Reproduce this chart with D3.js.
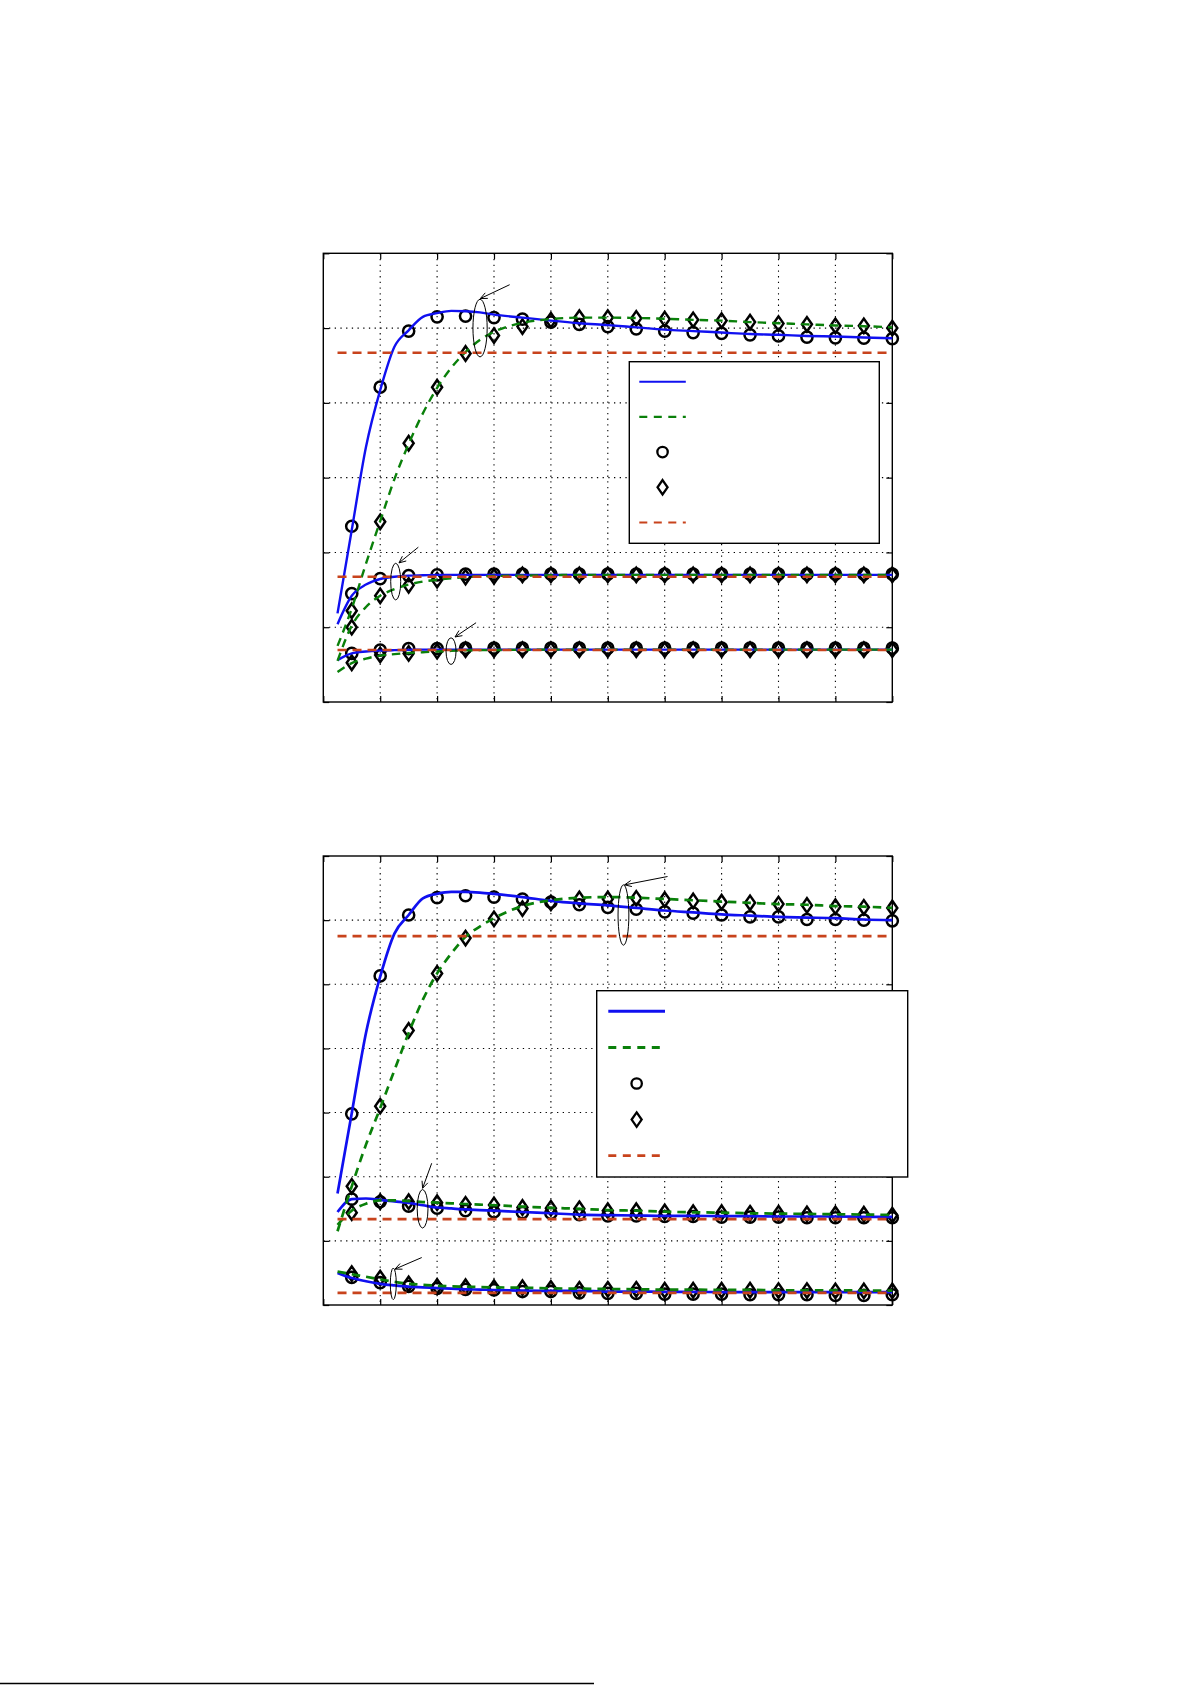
<!DOCTYPE html>
<html>
<head>
<meta charset="utf-8">
<script src="https://cdn.jsdelivr.net/npm/d3@7"></script>
<style>
    html, body { margin: 0; padding: 0; background: #fff; }
    svg { display: block; }
</style>
</head>
<body>
<div id="chart"></div>
<script>
'use strict';

// x samples of the continuous curves, and of the markers
const LINE_X = [0.5, 1, 1.5, 2, 2.5, 3, 3.5, 4, 4.5, 5, 5.5, 6, 7, 8, 9, 10, 11, 12, 13, 14, 15, 16, 17, 18, 19, 20];
const MARK_X = [1, 2, 3, 4, 5, 6, 7, 8, 9, 10, 11, 12, 13, 14, 15, 16, 17, 18, 19, 20];
const X_TICKS = [0, 2, 4, 6, 8, 10, 12, 14, 16, 18, 20];
const Y_TICKS_1 = [0, 1, 2, 3, 4, 5, 6];
const Y_TICKS_2 = [0, 1, 2, 3, 4, 5, 6, 7];

//#region PANEL 1 DATA
const p1BlueTop = [1.185, 2.30, 3.41, 4.17, 4.75, 4.97, 5.15, 5.20, 5.23, 5.225, 5.21, 5.18, 5.14, 5.10, 5.065, 5.04, 5.01, 4.98, 4.96, 4.94, 4.92, 4.91, 4.895, 4.887, 4.875, 4.865];
const p1GreenTop = [0.75, 1.25, 1.85, 2.42, 2.98, 3.45, 3.86, 4.20, 4.47, 4.68, 4.84, 4.95, 5.07, 5.12, 5.14, 5.14, 5.135, 5.125, 5.11, 5.10, 5.08, 5.065, 5.05, 5.035, 5.025, 5.01];
const p1BlueMid = [1.04, 1.42, 1.57, 1.645, 1.675, 1.69, 1.695, 1.70, 1.70, 1.70, 1.70, 1.70, 1.70, 1.70, 1.70, 1.70, 1.70, 1.70, 1.70, 1.70, 1.70, 1.70, 1.70, 1.70, 1.70, 1.70];
const p1GreenMid = [0.55, 1.02, 1.27, 1.42, 1.51, 1.57, 1.61, 1.635, 1.655, 1.67, 1.68, 1.685, 1.69, 1.695, 1.70, 1.70, 1.70, 1.70, 1.70, 1.70, 1.70, 1.70, 1.70, 1.70, 1.70, 1.70];
const p1BlueBot = [0.56, 0.65, 0.675, 0.687, 0.693, 0.697, 0.70, 0.70, 0.70, 0.70, 0.70, 0.70, 0.70, 0.70, 0.70, 0.70, 0.70, 0.70, 0.70, 0.70, 0.70, 0.70, 0.70, 0.70, 0.70, 0.70];
const p1GreenBot = [0.40, 0.52, 0.58, 0.62, 0.64, 0.655, 0.665, 0.675, 0.683, 0.69, 0.693, 0.695, 0.698, 0.70, 0.70, 0.70, 0.70, 0.70, 0.70, 0.70, 0.70, 0.70, 0.70, 0.70, 0.70, 0.70];
const p1RedLevels = [4.67, 1.675, 0.695];

const p1CircTop = [2.35, 4.21, 4.96, 5.15, 5.16, 5.14, 5.12, 5.08, 5.05, 5.02, 4.99, 4.96, 4.94, 4.93, 4.91, 4.895, 4.88, 4.87, 4.865, 4.86];
const p1DiamTop = [1.22, 2.41, 3.46, 4.21, 4.66, 4.90, 5.02, 5.105, 5.14, 5.14, 5.13, 5.12, 5.11, 5.10, 5.08, 5.06, 5.05, 5.03, 5.03, 5.00];
const p1CircMid = [1.45, 1.65, 1.69, 1.70, 1.71, 1.71, 1.71, 1.71, 1.71, 1.71, 1.71, 1.71, 1.71, 1.71, 1.71, 1.71, 1.71, 1.71, 1.71, 1.71];
const p1DiamMid = [1.00, 1.42, 1.56, 1.63, 1.67, 1.68, 1.70, 1.70, 1.70, 1.70, 1.70, 1.70, 1.70, 1.70, 1.70, 1.70, 1.70, 1.70, 1.70, 1.70];
const p1CircBot = [0.65, 0.695, 0.715, 0.715, 0.72, 0.72, 0.72, 0.72, 0.72, 0.72, 0.72, 0.72, 0.72, 0.72, 0.72, 0.72, 0.72, 0.72, 0.72, 0.72];
const p1DiamBot = [0.525, 0.63, 0.65, 0.68, 0.70, 0.70, 0.70, 0.70, 0.70, 0.70, 0.70, 0.70, 0.70, 0.70, 0.70, 0.70, 0.70, 0.70, 0.70, 0.70];

// ellipse marks: centre (data units), radii (data units), arrow tail -> head (data units)
const p1Notes = [
    { cx: 5.51, cy: 5.00, rx: 0.25, ry: 0.385, tx: 6.55, ty: 5.58, hx: 5.52, hy: 5.395 },
    { cx: 2.545, cy: 1.61, rx: 0.176, ry: 0.245, tx: 3.34, ty: 2.07, hx: 2.66, hy: 1.86 },
    { cx: 4.49, cy: 0.68, rx: 0.176, ry: 0.178, tx: 5.37, ty: 1.06, hx: 4.63, hy: 0.87 },
];
//#endregion

//#region PANEL 2 DATA
const p2BlueTop = [1.74, 2.99, 4.24, 5.12, 5.79, 6.08, 6.34, 6.41, 6.44, 6.44, 6.43, 6.41, 6.36, 6.30, 6.26, 6.23, 6.19, 6.15, 6.12, 6.09, 6.07, 6.05, 6.04, 6.03, 6.01, 6.00];
const p2GreenTop = [1.15, 1.85, 2.50, 3.07, 3.66, 4.24, 4.76, 5.17, 5.48, 5.74, 5.90, 6.03, 6.22, 6.31, 6.35, 6.36, 6.35, 6.33, 6.31, 6.29, 6.27, 6.25, 6.24, 6.22, 6.21, 6.19];
const p2BlueMid = [1.45, 1.65, 1.66, 1.64, 1.615, 1.59, 1.555, 1.52, 1.505, 1.49, 1.48, 1.47, 1.45, 1.43, 1.41, 1.40, 1.395, 1.39, 1.39, 1.385, 1.385, 1.38, 1.38, 1.38, 1.375, 1.375];
const p2GreenMid = [1.25, 1.47, 1.58, 1.63, 1.63, 1.62, 1.605, 1.595, 1.585, 1.575, 1.565, 1.555, 1.535, 1.515, 1.50, 1.48, 1.47, 1.455, 1.445, 1.44, 1.43, 1.425, 1.42, 1.415, 1.41, 1.405];
const p2BlueBot = [0.50, 0.42, 0.37, 0.33, 0.305, 0.285, 0.275, 0.265, 0.255, 0.245, 0.24, 0.234, 0.225, 0.22, 0.22, 0.21, 0.21, 0.205, 0.205, 0.20, 0.20, 0.20, 0.20, 0.20, 0.20, 0.20];
const p2GreenBot = [0.52, 0.48, 0.44, 0.40, 0.36, 0.33, 0.315, 0.30, 0.29, 0.285, 0.28, 0.275, 0.27, 0.26, 0.255, 0.25, 0.245, 0.24, 0.24, 0.235, 0.235, 0.23, 0.23, 0.23, 0.225, 0.225];
const p2RedLevels = [5.75, 1.34, 0.19];

const p2CircTop = [2.98, 5.13, 6.08, 6.35, 6.38, 6.36, 6.33, 6.28, 6.24, 6.20, 6.17, 6.13, 6.11, 6.08, 6.05, 6.05, 6.01, 6.01, 6.00, 5.99];
const p2DiamTop = [1.85, 3.10, 4.28, 5.17, 5.72, 6.02, 6.18, 6.27, 6.33, 6.33, 6.34, 6.32, 6.30, 6.28, 6.27, 6.25, 6.23, 6.21, 6.20, 6.19];
const p2CircMid = [1.65, 1.61, 1.54, 1.51, 1.47, 1.45, 1.44, 1.43, 1.41, 1.39, 1.39, 1.38, 1.38, 1.37, 1.37, 1.37, 1.36, 1.36, 1.36, 1.36];
const p2DiamMid = [1.44, 1.61, 1.61, 1.595, 1.57, 1.56, 1.52, 1.51, 1.50, 1.47, 1.47, 1.45, 1.44, 1.44, 1.43, 1.43, 1.42, 1.42, 1.415, 1.40];
const p2CircBot = [0.43, 0.35, 0.29, 0.26, 0.245, 0.235, 0.21, 0.21, 0.19, 0.18, 0.18, 0.17, 0.17, 0.17, 0.16, 0.16, 0.16, 0.15, 0.15, 0.16];
const p2DiamBot = [0.49, 0.42, 0.33, 0.29, 0.285, 0.27, 0.27, 0.26, 0.245, 0.245, 0.245, 0.23, 0.23, 0.23, 0.23, 0.225, 0.225, 0.22, 0.22, 0.22];

const p2Notes = [
    { cx: 10.55, cy: 6.08, rx: 0.19, ry: 0.47, tx: 12.10, ty: 6.68, hx: 10.59, hy: 6.55 },
    { cx: 3.49, cy: 1.50, rx: 0.19, ry: 0.30, tx: 3.81, ty: 2.21, hx: 3.49, hy: 1.82 },
    { cx: 2.46, cy: 0.33, rx: 0.105, ry: 0.246, tx: 3.46, ty: 0.74, hx: 2.52, hy: 0.56 },
];
//#endregion

const COLORS = { blue: '#1010f0', green: '#0a800a', red: '#c8431c', black: '#000' };

const W = 1191;
const H = 1685;

const svg = d3.select('#chart').append('svg')
    .attr('width', W)
    .attr('height', H)
    .attr('viewBox', `0 0 ${W} ${H}`);

//#region DRAWING
// diamond outline around a centre point
function diamondPath(cx, cy) {
    return `M${cx},${cy - 7.2}L${cx + 5},${cy}L${cx},${cy + 7.2}L${cx - 5},${cy}Z`;
}

function drawPanel(cfg) {
    const x = d3.scaleLinear().domain([0, 20]).range([0, cfg.w]);
    const y = d3.scaleLinear().domain([0, cfg.yMax]).range([cfg.h, 0]);

    const g = svg.append('g').attr('transform', `translate(${cfg.left},${cfg.top})`);

    // dotted grid
    g.append('g')
        .selectAll('line.vgrid')
        .data(X_TICKS.slice(1, -1))
        .enter().append('line')
        .attr('x1', d => x(d)).attr('x2', d => x(d))
        .attr('y1', 0).attr('y2', cfg.h)
        .attr('stroke', '#000').attr('stroke-width', 1.1)
        .attr('stroke-dasharray', '1.3,4.4');
    g.append('g')
        .selectAll('line.hgrid')
        .data(cfg.yTicks.slice(1, -1))
        .enter().append('line')
        .attr('x1', 0).attr('x2', cfg.w)
        .attr('y1', d => y(d)).attr('y2', d => y(d))
        .attr('stroke', '#000').attr('stroke-width', 1.1)
        .attr('stroke-dasharray', '1.3,4.4');

    // inward ticks on all four sides, no labels
    const tickLen = 6;
    const axes = [
        { a: d3.axisBottom(x).tickValues(X_TICKS), t: `translate(0,${cfg.h})` },
        { a: d3.axisTop(x).tickValues(X_TICKS), t: 'translate(0,0)' },
        { a: d3.axisLeft(y).tickValues(cfg.yTicks), t: 'translate(0,0)' },
        { a: d3.axisRight(y).tickValues(cfg.yTicks), t: `translate(${cfg.w},0)` },
    ];
    axes.forEach(ax => {
        const sel = g.append('g')
            .attr('transform', ax.t)
            .call(ax.a.tickSize(-tickLen).tickFormat(''));
        sel.select('.domain').remove();
        sel.selectAll('line').attr('stroke', '#000').attr('stroke-width', 1.2);
    });

    g.append('rect')
        .attr('width', cfg.w).attr('height', cfg.h)
        .attr('fill', 'none').attr('stroke', '#000').attr('stroke-width', 1.4);

    const line = d3.line()
        .x(d => x(d[0]))
        .y(d => y(d[1]))
        .curve(d3.curveMonotoneX);

    const zipLine = arr => LINE_X.map((xv, i) => [xv, arr[i]]);
    const zipMark = arr => MARK_X.map((xv, i) => [xv, arr[i]]);

    // markers
    cfg.circles.forEach(arr => {
        g.append('g').selectAll('circle')
            .data(zipMark(arr))
            .enter().append('circle')
            .attr('cx', d => x(d[0])).attr('cy', d => y(d[1]))
            .attr('r', 5.6)
            .attr('fill', 'none').attr('stroke', COLORS.black).attr('stroke-width', 2.5);
    });
    cfg.diamonds.forEach(arr => {
        g.append('g').selectAll('path')
            .data(zipMark(arr))
            .enter().append('path')
            .attr('d', d => diamondPath(x(d[0]), y(d[1])))
            .attr('fill', 'none').attr('stroke', COLORS.black).attr('stroke-width', 2.5)
            .attr('stroke-linejoin', 'miter');
    });

    // curves
    cfg.blue.forEach(arr => {
        g.append('path').datum(zipLine(arr))
            .attr('d', line)
            .attr('fill', 'none').attr('stroke', COLORS.blue).attr('stroke-width', cfg.lw);
    });
    cfg.green.forEach(arr => {
        g.append('path').datum(zipLine(arr))
            .attr('d', line)
            .attr('fill', 'none').attr('stroke', COLORS.green).attr('stroke-width', cfg.lw)
            .attr('stroke-dasharray', '8.5,6');
    });
    g.append('g').selectAll('line')
        .data(cfg.red)
        .enter().append('line')
        .attr('x1', x(LINE_X[0])).attr('x2', x(20))
        .attr('y1', d => y(d)).attr('y2', d => y(d))
        .attr('stroke', COLORS.red).attr('stroke-width', cfg.lw)
        .attr('stroke-dasharray', '9,6');

    // ellipse call-outs with open arrows
    cfg.notes.forEach(n => {
        g.append('ellipse')
            .attr('cx', x(n.cx)).attr('cy', y(n.cy))
            .attr('rx', x(n.rx) - x(0)).attr('ry', y(0) - y(n.ry))
            .attr('fill', 'none').attr('stroke', '#000').attr('stroke-width', 1);
        const x1 = x(n.tx), y1 = y(n.ty), x2 = x(n.hx), y2 = y(n.hy);
        g.append('line')
            .attr('x1', x1).attr('y1', y1).attr('x2', x2).attr('y2', y2)
            .attr('stroke', '#000').attr('stroke-width', 1);
        const ang = Math.atan2(y2 - y1, x2 - x1);
        const len = 7.5, spread = 0.42;
        const head = [ang + Math.PI - spread, ang + Math.PI + spread]
            .map(a => [x2 + len * Math.cos(a), y2 + len * Math.sin(a)]);
        g.append('path')
            .attr('d', `M${head[0][0]},${head[0][1]}L${x2},${y2}L${head[1][0]},${head[1][1]}`)
            .attr('fill', 'none').attr('stroke', '#000').attr('stroke-width', 1);
    });

    drawLegend(cfg.legend, cfg.legendLw);
}

function drawLegend(lg, lw) {
    const g = svg.append('g').attr('transform', `translate(${lg.left},${lg.top})`);
    g.append('rect')
        .attr('width', lg.w).attr('height', lg.h)
        .attr('fill', '#fff').attr('stroke', '#000').attr('stroke-width', 1.4);

    const rows = ['blue', 'green', 'circle', 'diamond', 'red'];
    const ry = d3.scalePoint().domain(rows).range([lg.row0, lg.row0 + lg.step * 4]);
    const x1 = lg.lineX0, x2 = lg.lineX0 + lg.lineLen, mx = (x1 + x2) / 2;

    g.append('line').attr('x1', x1).attr('x2', x2)
        .attr('y1', ry('blue')).attr('y2', ry('blue'))
        .attr('stroke', COLORS.blue).attr('stroke-width', lw);
    g.append('line').attr('x1', x1).attr('x2', x2)
        .attr('y1', ry('green')).attr('y2', ry('green'))
        .attr('stroke', COLORS.green).attr('stroke-width', lw).attr('stroke-dasharray', '8,6.5');
    g.append('circle').attr('cx', mx).attr('cy', ry('circle')).attr('r', 5.2)
        .attr('fill', 'none').attr('stroke', '#000').attr('stroke-width', 2.3);
    g.append('path')
        .attr('d', diamondPath(mx, ry('diamond')))
        .attr('fill', 'none').attr('stroke', '#000').attr('stroke-width', 2.3);
    g.append('line').attr('x1', x1).attr('x2', x2)
        .attr('y1', ry('red')).attr('y2', ry('red'))
        .attr('stroke', COLORS.red).attr('stroke-width', lw * 0.9).attr('stroke-dasharray', '8,6.5');
}
//#endregion

drawPanel({
    left: 323.3, top: 253.3, w: 569, h: 448.7,
    yMax: 6, yTicks: Y_TICKS_1, lw: 2.4, legendLw: 2.1,
    blue: [p1BlueTop, p1BlueMid, p1BlueBot],
    green: [p1GreenTop, p1GreenMid, p1GreenBot],
    red: p1RedLevels,
    circles: [p1CircTop, p1CircMid, p1CircBot],
    diamonds: [p1DiamTop, p1DiamMid, p1DiamBot],
    notes: p1Notes,
    legend: { left: 629.3, top: 361.7, w: 250, h: 181.6, row0: 20, step: 35.2, lineX0: 10, lineLen: 46.5 },
});

drawPanel({
    left: 323.3, top: 856, w: 569, h: 449,
    yMax: 7, yTicks: Y_TICKS_2, lw: 2.7, legendLw: 3,
    blue: [p2BlueTop, p2BlueMid, p2BlueBot],
    green: [p2GreenTop, p2GreenMid, p2GreenBot],
    red: p2RedLevels,
    circles: [p2CircTop, p2CircMid, p2CircBot],
    diamonds: [p2DiamTop, p2DiamMid, p2DiamBot],
    notes: p2Notes,
    legend: { left: 596.7, top: 990.7, w: 311, h: 186.3, row0: 20.6, step: 36.1, lineX0: 11.6, lineLen: 56.7 },
});

// rule across the bottom of the page
svg.append('line')
    .attr('x1', 0).attr('x2', 594)
    .attr('y1', 1683.5).attr('y2', 1683.5)
    .attr('stroke', '#000').attr('stroke-width', 1.3);
</script>
</body>
</html>
